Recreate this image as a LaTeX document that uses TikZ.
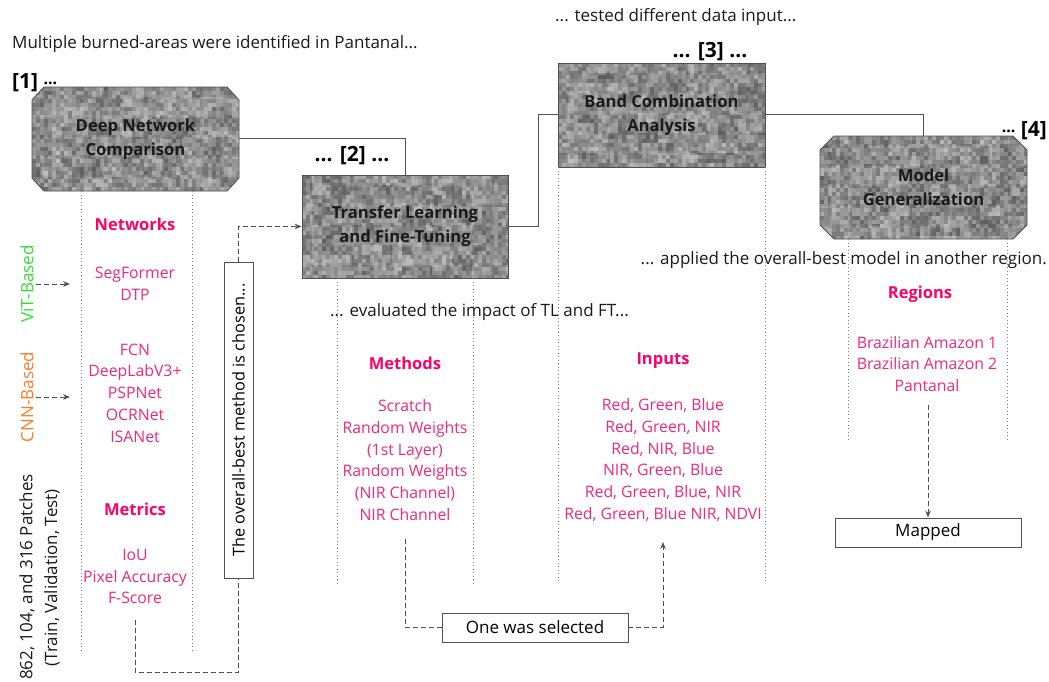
\documentclass[tikz,border=0pt]{standalone}
\usepackage{fontspec}
\setmainfont{Open Sans}
\usetikzlibrary{arrows.meta,calc}
\definecolor{pinkh}{HTML}{FF0066}
\definecolor{pinki}{HTML}{F0287A}
\definecolor{vitg}{HTML}{33DD33}
\definecolor{cnno}{HTML}{FF7A29}
\definecolor{lnc}{HTML}{505050}
\definecolor{txt}{HTML}{1A1A1A}
\newcommand\fsz[2]{\fontsize{#1}{#2}\selectfont}
\tikzset{
  plain/.style={font=\fsz{17}{20}, text=txt, inner sep=0pt},
  hdr/.style={font=\bfseries\fsz{16.5}{20}, text=pinkh, inner sep=0pt},
  item/.style={font=\fsz{15.8}{21.7}, text=pinki, align=center, inner sep=0pt},
  boxtitle/.style={font=\bfseries\fsz{16.6}{24}, text=txt, align=center, inner sep=0pt},
  lbl/.style={font=\bfseries\fsz{18}{20}, text=black, inner sep=0pt},
  biglbl/.style={font=\bfseries\fsz{21}{22}, text=black, inner sep=0pt},
  framed/.style={draw=lnc, fill=white, line width=0.9pt, font=\fsz{17}{20}, text=black, inner sep=0pt},
  boxframe/.style={draw=lnc, line width=0.9pt},
  conn/.style={draw=lnc, line width=1pt},
  dotln/.style={draw=gray, line width=0.9pt, dash pattern=on 0.9pt off 2.6pt},
  dashln/.style={draw=lnc, line width=1pt, dash pattern=on 5pt off 3pt},
  dasharrow/.style={dashln, -{Stealth[length=7pt,width=5.5pt]}},
  texture/.style={path picture={
    \foreach \i in {0,...,21}{\foreach \j in {0,...,10}{
      \pgfmathrandominteger{\g}{28}{58}
      \fill[black!\g] ([shift={(\i*10pt,-\j*10pt)}]path picture bounding box.north west) rectangle ++(10.2pt,-10.2pt);
    }}
    \foreach \i in {0,...,52}{\foreach \j in {0,...,26}{
      \pgfmathrandominteger{\g}{22}{70}
      \fill[black!\g, opacity=0.45] ([shift={(\i*4pt,-\j*4pt)}]path picture bounding box.north west) rectangle ++(4pt,-4pt);
    }}
  }},
}
\begin{document}
\pgfmathsetseed{42}
\begin{tikzpicture}[x=1pt,y=-1pt]
\useasboundingbox (0,0) rectangle (1049,682);

% ---- textured step boxes ----
\path[boxframe,texture] (32,100) -- (44,87) -- (227,87) -- (239,100) -- (239,178) -- (227,191) -- (44,191) -- (32,178) -- cycle;
\node[boxtitle, minimum width=207pt, minimum height=104pt] (b1) at (135.5,139) {Deep Network\\Comparison};

\node[boxtitle, boxframe, texture, minimum width=206pt, minimum height=103pt] (b2) at (405,226.5) {Transfer Learning\\and Fine-Tuning};

\node[boxtitle, boxframe, texture, minimum width=207pt, minimum height=104pt] (b3) at (661.5,115) {Band Combination\\Analysis};

\path[boxframe,texture] (820,150) -- (834,136) -- (1013,136) -- (1027,150) -- (1027,225) -- (1013,239) -- (834,239) -- (820,225) -- cycle;
\node[boxtitle, minimum width=207pt, minimum height=103pt] (b4) at (923.5,187.5) {Model\\Generalization};

% ---- step labels ----
\node[biglbl, anchor=west] (l1) at (12,83) {[1] \raisebox{0.35ex}{\fsz{16}{18}...}};
\node[biglbl] (l2) at (352,156) {... [2] ...};
\node[biglbl] (l3) at (710,52) {... [3] ...};
\node[biglbl, anchor=east] (l4) at (1047,131) {\raisebox{0.35ex}{\fsz{16}{18}...} [4]};

% ---- solid connectors ----
\draw[conn] (b1.east) -| (b2.north);
\draw[conn] (b2.east) -- ++(30,0) |- (b3.west);
\draw[conn] (b3.east) -| (b4.north);

% ---- dotted guides ----
\draw[dotln] (81,191) -- (81,650);
\draw[dotln] (192,191) -- (192,650);
\draw[dotln] (337,278) -- (337,583);
\draw[dotln] (473,278) -- (473,583);
\draw[dotln] (558,167) -- (558,583);
\draw[dotln] (765,167) -- (765,583);
\draw[dotln] (848,239) -- (848,440);
\draw[dotln] (1007,239) -- (1007,440);

% ---- narrative texts ----
\node[plain, anchor=west] (t1) at (12,44) {Multiple burned-areas were identified in Pantanal...};
\node[plain, anchor=west] (t2) at (555,17) {... tested different data input...};
\node[plain, anchor=west] (t3) at (330,312) {... evaluated the impact of TL and FT...};
\node[plain, anchor=east] (t4) at (1047,260) {... applied the overall-best model in another region.};

% ---- column 1 ----
\node[hdr] (hnet) at (135,224) {Networks};
\node[item] (vitl) at (135,284) {SegFormer\\DTP};
\node[item] (cnnl) at (135,393) {FCN\\DeepLabV3+\\PSPNet\\OCRNet\\ISANet};
\node[hdr] (hmet) at (135,509) {Metrics};
\node[item] (metl) at (135,576.5) {IoU\\Pixel Accuracy\\F-Score};

\node[plain, text=vitg, rotate=90] (vit) at (27,284) {ViT-Based};
\node[plain, text=cnno, rotate=90] (cnn) at (27,397) {CNN-Based};
\node[plain, rotate=90, anchor=east] (pat) at (27,474) {862, 104, and 316 Patches};
\node[plain, rotate=90, anchor=east] (tvt) at (52,489) {(Train, Validation, Test)};
\coordinate (vitend) at (70,284);
\coordinate (cnnend) at (70,397);
\draw[dasharrow, shorten <=2pt] (vit.south) -- (vitend);
\draw[dasharrow, shorten <=2pt] (cnn.south) -- (cnnend);

\node[framed, rotate=90, minimum width=316pt, minimum height=29pt, font=\fsz{16.3}{20}] (chosen) at (238.5,420) {The overall-best method is chosen...};
\coordinate (metsrc) at (135,620);
% rotated node: west = bottom, east = top
\draw[dashln] (metsrc) -- ++(0,52) -| (chosen.west);
\draw[dasharrow] (chosen.east) |- (b2.west);

% ---- column 2 ----
\node[hdr] (hmeth) at (405,363) {Methods};
\node[item] (methl) at (405,460) {Scratch\\Random Weights\\(1st Layer)\\Random Weights\\(NIR Channel)\\NIR Channel};

% ---- column 3 ----
\node[hdr] (hin) at (663,361) {Inputs};
\node[item] (inl) at (663,460) {Red, Green, Blue\\Red, Green, NIR\\Red, NIR, Blue\\NIR, Green, Blue\\Red, Green, Blue, NIR\\Red, Green, Blue NIR, NDVI};

\node[framed, minimum width=186pt, minimum height=29pt] (sel) at (535,627.5) {One was selected};
\coordinate (methsrc) at (405,538);
\coordinate (inend) at (663,542);
\draw[dashln] (sel.west) -| (methsrc);
\draw[dasharrow] (sel.east) -| (inend);

% ---- column 4 ----
\node[hdr] (hreg) at (920,294) {Regions};
\node[item] (regl) at (927,364) {Brazilian Amazon 1\\Brazilian Amazon 2\\Pantanal};
\node[framed, minimum width=186pt, minimum height=29pt] (mapped) at (928,532.5) {Mapped};
\coordinate (regsrc) at (928,405);
\draw[dasharrow] (regsrc) -- (mapped.north);

\end{tikzpicture}
\end{document}
